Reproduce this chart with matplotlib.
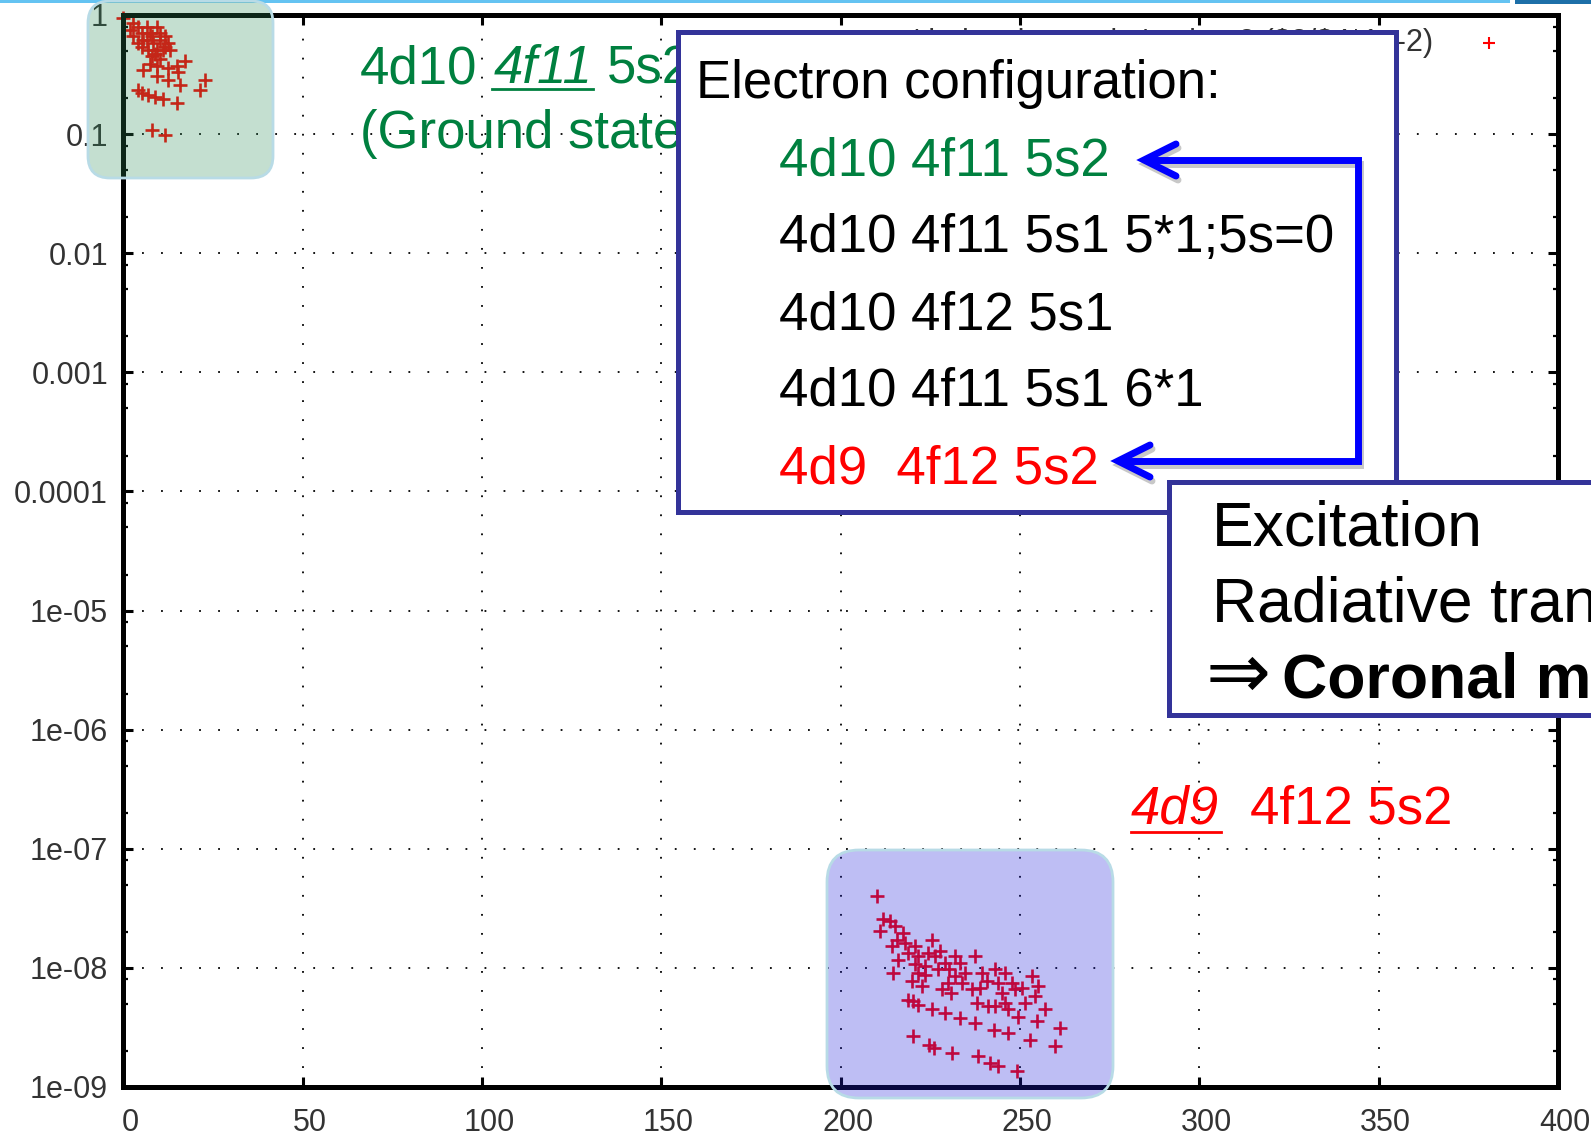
import matplotlib
matplotlib.use("Agg")
import matplotlib.pyplot as plt
from matplotlib import patches, transforms
from matplotlib.ticker import LogLocator, NullFormatter

W, H = 1591, 1137
plt.rcParams["lines.scale_dashes"] = False

# level index vs. relative population, ground-state group
ground_x = [0.0, 1.9, 2.8, 2.8, 4.2, 4.2, 5.1, 5.1, 5.6, 6.5, 6.5, 7.0, 7.4, 7.4, 7.9, 7.9,
            8.4, 8.8, 9.3, 9.3, 9.3, 9.3, 10.2, 10.2, 10.2, 11.2, 11.6, 11.6, 12.5, 12.5,
            12.5, 13.0, 14.9, 15.3, 15.8, 17.2, 22.8, 21.4, 4.2, 5.1, 7.0, 8.8, 11.2, 14.9,
            7.9, 11.6, 5.6]
ground_y = [0.95, 0.75, 0.66, 0.85, 0.80, 0.58, 0.54, 0.70, 0.62, 0.80, 0.62, 0.51, 0.70,
            0.39, 0.45, 0.66, 0.58, 0.47, 0.80, 0.51, 0.37, 0.31, 0.70, 0.43, 0.62, 0.51,
            0.66, 0.54, 0.58, 0.36, 0.284, 0.51, 0.37, 0.334, 0.258, 0.41, 0.284, 0.234,
            0.234, 0.22, 0.213, 0.206, 0.196, 0.181, 0.108, 0.098, 0.345]

# 4d-hole group
excited_x = [210.0, 211.9, 213.8, 211.0, 215.1, 217.5, 215.6, 214.2, 217.9, 220.7, 225.4,
             218.9, 216.1, 221.7, 224.4, 226.3, 220.7, 223.5, 214.7, 219.8, 222.6, 221.7,
             227.2, 229.1, 231.9, 230.1, 232.0, 234.7, 237.5, 230.0, 233.7, 228.2, 230.9,
             236.5, 239.3, 238.8, 240.7, 243.0, 243.9, 245.8, 244.9, 247.7, 248.6, 253.3,
             255.1, 254.2, 251.4, 249.5, 257.0, 254.7, 246.7, 243.0, 241.2, 237.9, 237.5,
             233.3, 229.1, 225.4, 220.3, 221.7, 218.9, 242.8, 246.7, 252.8, 261.2, 259.8,
             220.3, 224.5, 225.9, 231.0, 238.4, 241.6, 244.0, 249.1, 250.5, 245.8, 227.7,
             233.3, 223.5]
excited_y = [4.0e-8, 2.55e-8, 2.47e-8, 2.03e-8, 2.24e-8, 1.97e-8, 1.73e-8, 1.52e-8, 1.62e-8,
             1.52e-8, 1.73e-8, 1.34e-8, 1.17e-8, 1.25e-8, 1.34e-8, 1.25e-8, 1.07e-8, 1.03e-8,
             9.1e-9, 7.7e-9, 7.0e-9, 9.1e-9, 9.7e-9, 1.10e-8, 1.25e-8, 9.7e-9, 8.5e-9, 9.1e-9,
             1.25e-8, 7.5e-9, 7.5e-9, 6.6e-9, 6.2e-9, 6.6e-9, 9.1e-9, 6.8e-9, 7.7e-9, 9.7e-9,
             7.5e-9, 9.1e-9, 6.2e-9, 7.5e-9, 6.6e-9, 8.5e-9, 7.0e-9, 5.8e-9, 5.1e-9, 3.9e-9,
             4.5e-9, 3.6e-9, 4.5e-9, 4.8e-9, 4.8e-9, 5.1e-9, 3.45e-9, 3.8e-9, 4.2e-9, 4.5e-9,
             5.3e-9, 4.9e-9, 5.4e-9, 3.0e-9, 2.85e-9, 2.5e-9, 3.1e-9, 2.2e-9, 2.67e-9, 2.27e-9,
             2.13e-9, 1.93e-9, 1.81e-9, 1.59e-9, 1.51e-9, 1.35e-9, 6.8e-9, 5.1e-9, 1.38e-8,
             1.1e-8, 8.8e-9]

x_ticks = [0, 50, 100, 150, 200, 250, 300, 350, 400]
y_ticks = [1, 0.1, 0.01, 0.001, 0.0001, 1e-5, 1e-6, 1e-7, 1e-8, 1e-9]
y_tick_labels = ["1", "0.1", "0.01", "0.001", "0.0001", "1e-05", "1e-06", "1e-07", "1e-08", "1e-09"]

config_title = "Electron configuration:"
config_lines = ["4d10 4f11 5s2", "4d10 4f11 5s1 5*1;5s=0", "4d10 4f12 5s1",
                "4d10 4f11 5s1 6*1", "4d9  4f12 5s2"]
config_colors = ["#00803f", "black", "black", "black", "#ff0000"]
model_lines = ["Excitation", "Radiative transition"]
model_result = "Coronal model"
key_text = "'tb_level_pop.dat' using 2:($3/$4*1e-2)"

GREEN = "#00803f"
FRAME = "#333399"
SLIDE_FONT = ["Liberation Sans", "DejaVu Sans"]

fig = plt.figure(figsize=(W / 100, H / 100), dpi=100)
ax = fig.add_axes([123.3 / W, 1 - 1087 / H, (1558 - 123.3) / W, (1087 - 15) / H])

ax.plot(ground_x + excited_x, ground_y + excited_y, linestyle="none", marker="+",
        color="red", markersize=10, markeredgewidth=1.9, clip_on=False)

ax.set_xlim(0, 400)
ax.set_yscale("log")
ax.set_ylim(1e-9, 1)
ax.set_xticks(x_ticks)
ax.set_xticklabels([str(v) for v in x_ticks])
ax.set_yticks(y_ticks)
ax.set_yticklabels(y_tick_labels)
ax.yaxis.set_minor_locator(LogLocator(base=10, subs=(2, 5, 8), numticks=30))
ax.yaxis.set_minor_formatter(NullFormatter())

ax.grid(True, which="major", color="black", linestyle=(0, (1.3, 12.4)), linewidth=1.3)
ax.set_axisbelow(True)
ax.tick_params(which="both", direction="in", top=True, right=True, colors="black",
               labelcolor="#333333", labelsize=22)
ax.tick_params(which="major", length=7, width=2.2)
ax.tick_params(which="minor", length=3.5, width=1.6)
ax.tick_params(axis="x", pad=15)
ax.tick_params(axis="y", pad=11)
for lab in ax.get_xticklabels() + ax.get_yticklabels():
    lab.set_family("Liberation Sans")
shift = transforms.Affine2D().translate(7, 0)
for tick in ax.xaxis.get_major_ticks():
    tick.label1.set_transform(tick.label1.get_transform() + shift)
for sp in ax.spines.values():
    sp.set_linewidth(3.6)
    sp.set_color("black")

# slide layer in pixel coordinates
ov = fig.add_axes([0, 0, 1, 1], zorder=5)
ov.set_xlim(0, W)
ov.set_ylim(H, 0)
ov.axis("off")

ov.add_patch(patches.Rectangle((0, 0), 1510, 3, color="#64c3f2", lw=0, zorder=1))
ov.add_patch(patches.Rectangle((1515, 0), 76, 4, color="#1d6fa8", lw=0, zorder=1))

# highlighted groups
ov.add_patch(patches.FancyBboxPatch((88, 1), 185, 177, boxstyle="round,pad=0,rounding_size=22",
                                    facecolor=(0.18, 0.55, 0.34, 0.28),
                                    edgecolor=(0.72, 0.86, 0.9), lw=2, zorder=2))
ov.add_patch(patches.FancyBboxPatch((827, 850), 286, 248, boxstyle="round,pad=0,rounding_size=32",
                                    facecolor=(0.12, 0.12, 0.86, 0.29),
                                    edgecolor=(0.72, 0.86, 0.9), lw=2, zorder=2))

# plot key (mostly hidden behind the configuration box)
ov.text(1433, 51, key_text, ha="right", va="baseline", fontsize=22, color="#333333",
        family="Liberation Sans", parse_math=False, zorder=3)
ov.plot([1489], [43], marker="+", color="red", markersize=8, markeredgewidth=1.5, zorder=3)

# ground state label
ov.text(360, 83, "4d10", color=GREEN, fontsize=38, va="baseline", family=SLIDE_FONT, zorder=3)
ov.text(494, 83, "4f11", color=GREEN, fontsize=38, va="baseline", style="italic",
        family=SLIDE_FONT, zorder=3)
ov.text(607, 83, "5s2", color=GREEN, fontsize=38, va="baseline", family=SLIDE_FONT, zorder=3)
ov.plot([492, 593], [89, 89], color=GREEN, lw=2, zorder=3)
ov.text(360, 148, "(Ground state)", color=GREEN, fontsize=38, va="baseline",
        family=SLIDE_FONT, zorder=3)

# configuration box
ov.add_patch(patches.Rectangle((678, 32), 718, 480, facecolor="white", edgecolor=FRAME,
                               lw=3.6, zorder=4))
ov.text(696, 98, config_title, fontsize=38, va="baseline", color="black", family=SLIDE_FONT,
        zorder=5)
for i, (line, col) in enumerate(zip(config_lines, config_colors)):
    ov.text(779, 175 + 77 * i, line, fontsize=38, va="baseline", color=col,
            family=SLIDE_FONT, zorder=5)

# transition arrows with drop shadow
path_x = [1144, 1358, 1358, 1118]
path_y = [160, 160, 461, 461]
heads = [(1144, 160), (1118, 461)]
for dx, dy, col in [(2, 4, "#c8c8c8"), (0, 0, "#0000ff")]:
    ov.plot([x + dx for x in path_x], [y + dy for y in path_y], color=col, lw=5,
            solid_joinstyle="miter", solid_capstyle="butt", zorder=6)
    for hx, hy in heads:
        ov.plot([hx + 32 + dx, hx + dx, hx + 32 + dx], [hy - 16 + dy, hy + dy, hy + 16 + dy],
                color=col, lw=5, solid_capstyle="round", solid_joinstyle="miter", zorder=6)

# model box
ov.add_patch(patches.Rectangle((1169, 482), 500, 233, facecolor="white", edgecolor=FRAME,
                               lw=3.6, zorder=7))
ov.text(1212, 545, model_lines[0], fontsize=45, va="baseline", color="black",
        family=SLIDE_FONT, zorder=8)
ov.text(1212, 622, model_lines[1], fontsize=45, va="baseline", color="black",
        family=SLIDE_FONT, zorder=8)
ov.text(1206, 698, "\u21d2", fontsize=56, va="baseline", color="black",
        family=["DejaVu Sans"], zorder=8)
ov.text(1282, 698, model_result, fontsize=45, va="baseline", color="black", weight="bold",
        family=SLIDE_FONT, zorder=8)

# 4d-hole label
ov.text(1131, 824, "4d9", color="#ff0000", fontsize=38, va="baseline", style="italic",
        family=SLIDE_FONT, zorder=5)
ov.text(1250, 824, "4f12 5s2", color="#ff0000", fontsize=38, va="baseline",
        family=SLIDE_FONT, zorder=5)
ov.plot([1131, 1221], [832, 832], color="#ff0000", lw=2, zorder=5)

fig.savefig("out.png", dpi=100)
